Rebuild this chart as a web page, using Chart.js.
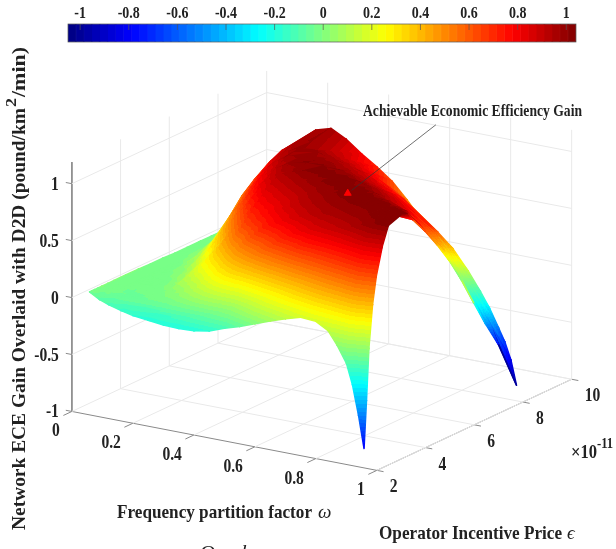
<!DOCTYPE html>
<html>
<head>
<meta charset="utf-8">
<script src="https://cdn.jsdelivr.net/npm/chart.js@4"></script>
<style>
html, body { margin: 0; padding: 0; background: #fff; }
#wrap { position: relative; width: 616px; height: 549px; overflow: hidden; }
canvas { position: absolute; left: 0; top: 0; }
</style>
</head>
<body>
<div id="wrap">
<canvas id="surfaceChart" width="616" height="549"></canvas>
<canvas id="barChart" width="616" height="50"></canvas>
</div>
<script>
// values
const omegaValues = [0.058, 0.09, 0.12, 0.16, 0.2, 0.25, 0.3, 0.35, 0.4, 0.45, 0.5, 0.55, 0.6, 0.65, 0.7, 0.75, 0.8, 0.84, 0.87, 0.9, 0.92, 0.94, 0.958];
const priceValues = [2, 2.1, 2.2, 2.35, 2.5, 2.75, 3, 3.5, 4, 4.5, 5, 5.5, 6, 6.5, 7, 7.5, 8.26];
const gainRows = [
    [0.08, 0.03, 0, -0.03, -0.055, -0.07, -0.085, -0.09, -0.085, -0.06, -0.01, 0.03, 0.08, 0.13, 0.175, 0.215, 0.205, 0.145, 0.03, -0.11, -0.29, -0.55, -0.83],
    [0.08, 0.03, 0, -0.03, -0.05, -0.065, -0.075, -0.07, -0.055, -0.025, 0.03, 0.08, 0.13, 0.19, 0.235, 0.275, 0.29, 0.26, 0.18, 0.1, -0.05, -0.22, -0.42],
    [0.08, 0.03, 0, -0.03, -0.05, -0.06, -0.065, -0.05, -0.025, 0.01, 0.07, 0.13, 0.19, 0.25, 0.31, 0.36, 0.4, 0.38, 0.35, 0.3, 0.2, 0.1, 0.03],
    [0.08, 0.03, 0.005, -0.025, -0.045, -0.05, -0.05, -0.02, 0.02, 0.07, 0.14, 0.2, 0.27, 0.35, 0.42, 0.49, 0.54, 0.55, 0.54, 0.52, 0.49, 0.45, 0.4],
    [0.08, 0.03, 0.005, -0.02, -0.035, -0.04, -0.03, 0.01, 0.07, 0.13, 0.2, 0.28, 0.36, 0.46, 0.55, 0.61, 0.66, 0.68, 0.69, 0.7, 0.68, 0.65, 0.63],
    [0.08, 0.035, 0.01, -0.015, -0.025, -0.02, 0.01, 0.07, 0.15, 0.24, 0.34, 0.44, 0.55, 0.65, 0.76, 0.79, 0.82, 0.85, 0.88, 0.9, 0.89, 0.88, 0.87],
    [0.08, 0.035, 0.01, -0.01, -0.015, 0, 0.05, 0.13, 0.24, 0.36, 0.48, 0.6, 0.71, 0.8, 0.86, 0.89, 0.92, 0.95, 0.98, 1, 1.01, 1.02, 1.03],
    [0.08, 0.035, 0.015, 0, 0.01, 0.05, 0.14, 0.27, 0.42, 0.57, 0.7, 0.78, 0.85, 0.9, 0.94, 0.96, 0.98, 1, 1.02, 1.03, 1.05, 1.06, 1.07],
    [0.08, 0.04, 0.02, 0.015, 0.05, 0.17, 0.3, 0.45, 0.62, 0.72, 0.8, 0.87, 0.92, 0.96, 0.99, 1.01, 1.02, 1.03, 1.04, 1.04, 1.04, 1.02, 0.98],
    [0.075, 0.04, 0.03, 0.04, 0.1, 0.24, 0.42, 0.6, 0.75, 0.82, 0.87, 0.92, 0.97, 1, 1.03, 1.04, 1.03, 1.01, 0.99, 0.97, 0.92, 0.88, 0.83],
    [0.075, 0.045, 0.04, 0.08, 0.2, 0.38, 0.57, 0.74, 0.85, 0.9, 0.95, 0.99, 1.02, 1.03, 1.03, 1, 0.96, 0.91, 0.88, 0.81, 0.77, 0.72, 0.66],
    [0.07, 0.05, 0.06, 0.14, 0.3, 0.52, 0.7, 0.84, 0.93, 0.98, 1.02, 1.03, 1.03, 1.01, 0.97, 0.92, 0.85, 0.8, 0.73, 0.66, 0.6, 0.55, 0.47],
    [0.07, 0.055, 0.08, 0.22, 0.42, 0.64, 0.8, 0.91, 0.99, 1.01, 1.01, 1, 0.97, 0.93, 0.89, 0.84, 0.74, 0.65, 0.58, 0.5, 0.42, 0.33, 0.25],
    [0.07, 0.06, 0.1, 0.3, 0.55, 0.74, 0.88, 0.97, 1, 0.99, 0.97, 0.94, 0.9, 0.85, 0.81, 0.7, 0.59, 0.5, 0.41, 0.29, 0.2, 0.1, 0],
    [0.07, 0.07, 0.13, 0.37, 0.64, 0.82, 0.93, 0.99, 0.98, 0.95, 0.92, 0.88, 0.83, 0.77, 0.68, 0.55, 0.45, 0.33, 0.21, 0.08, -0.02, -0.13, -0.24],
    [0.07, 0.08, 0.16, 0.43, 0.7, 0.87, 0.97, 1, 0.94, 0.9, 0.86, 0.8, 0.72, 0.65, 0.51, 0.42, 0.29, 0.14, 0.01, -0.13, -0.24, -0.35, -0.46],
    [0.07, 0.1, 0.2, 0.48, 0.76, 0.88, 1, 1.04, 0.97, 0.87, 0.78, 0.68, 0.54, 0.38, 0.31, 0.19, 0.02, -0.14, -0.27, -0.43, -0.54, -0.69, -0.9]
];
const peakPoint = [0.665, 5, 0.96];

// the painted colour sits a little under the height near the front, left and back edges
const priceColorShift = [-0.12, -0.11, -0.1, -0.09, -0.07, -0.04, -0.02, 0, 0, 0, 0, 0, 0, 0, 0, -0.02, -0.07];
const omegaColorWeight = [1, 1, 1, 1, 1, 1, 1, 1, 1, 1, 1, 0.85, 0.7, 0.6, 0.5, 0.4, 0.3, 0.2, 0.1, 0, 0, 0, 0];
const leftColorShift = [-0.08, -0.07, -0.05, -0.03, -0.01, 0, 0, 0, 0, 0, 0, 0, 0, 0, 0, 0, 0, 0, 0, 0, 0, 0, 0];
// the thin ribbon on the right is seen edge on, its colour follows the screen height
const ribbonHeights = [215, 235, 257, 280, 307, 347, 387];
const ribbonColors = [0.8, 0.55, 0.25, 0, -0.27, -0.79, -1];
const ribbonStartX = 410;
const backEdgeStartX = 425;

const omegaTicks = [0, 0.2, 0.4, 0.6, 0.8, 1];
const priceTicks = [2, 4, 6, 8, 10];
const gainTicks = [-1, -0.5, 0, 0.5, 1];
const colorbarTicks = [-1, -0.8, -0.6, -0.4, -0.2, 0, 0.2, 0.4, 0.6, 0.8, 1];

const colorMin = -1.05;
const colorMax = 1.04;
const colorLevels = 64;
const zTop = 1.19;

const textColor = '#222222';
const serif = '"Liberation Serif", "Times New Roman", serif';

// 3D view of the box, gives the x/y values for the screen scales
function project(omega, price, gain) {
    return {
        x: 68 + 310 * omega + 24.75 * (price - 2),
        y: 414 + 60 * omega - 11.6 * (price - 2) - 116 * (gain + 1)
    };
}

function jet(t) {
    function part(v) { return Math.round(255 * Math.max(0, Math.min(1, v))); }
    const r = part(Math.min(4 * t - 1.5, -4 * t + 4.5));
    const g = part(Math.min(4 * t - 0.5, -4 * t + 3.5));
    const b = part(Math.min(4 * t + 0.5, -4 * t + 2.5));
    return 'rgb(' + r + ',' + g + ',' + b + ')';
}

function levelOf(z) {
    const t = (z - colorMin) / (colorMax - colorMin);
    return Math.max(0, Math.min(colorLevels - 1, Math.floor(t * colorLevels)));
}

function levelColor(i) {
    return jet((i + 0.5) / colorLevels);
}

function ribbonColor(y) {
    if (y <= ribbonHeights[0]) return ribbonColors[0];
    for (let k = 1; k < ribbonHeights.length; k++) {
        if (y <= ribbonHeights[k]) {
            const f = (y - ribbonHeights[k - 1]) / (ribbonHeights[k] - ribbonHeights[k - 1]);
            return ribbonColors[k - 1] + f * (ribbonColors[k] - ribbonColors[k - 1]);
        }
    }
    return ribbonColors[ribbonColors.length - 1];
}

// value that picks the colour of one grid point
function colorValue(i, j) {
    const p = project(omegaValues[i], priceValues[j], gainRows[j][i]);
    const startX = j === priceValues.length - 1 ? backEdgeStartX : ribbonStartX;
    if (p.x > startX) return ribbonColor(p.y);
    return gainRows[j][i] + Math.min(priceColorShift[j] * omegaColorWeight[i], leftColorShift[i]);
}

// banded gradient that follows the colour value across one triangle
function triangleFill(ctx, p, z) {
    const ax = p[1].x - p[0].x, ay = p[1].y - p[0].y;
    const bx = p[2].x - p[0].x, by = p[2].y - p[0].y;
    const dz1 = z[1] - z[0], dz2 = z[2] - z[0];
    const det = ax * by - bx * ay;
    const low = Math.min(z[0], z[1], z[2]);
    const high = Math.max(z[0], z[1], z[2]);
    if (Math.abs(det) < 0.01 || levelOf(low) === levelOf(high)) {
        return levelColor(levelOf((low + high) / 2));
    }
    const gx = (dz1 * by - dz2 * ay) / det;
    const gy = (dz2 * ax - dz1 * bx) / det;
    const g2 = gx * gx + gy * gy;
    const start = p[z.indexOf(low)];
    const k = (high - low) / g2;
    const gradient = ctx.createLinearGradient(start.x, start.y, start.x + gx * k, start.y + gy * k);
    const bandSize = (colorMax - colorMin) / colorLevels;
    for (let i = levelOf(low); i <= levelOf(high); i++) {
        const from = Math.max(0, (colorMin + i * bandSize - low) / (high - low));
        const to = Math.min(1, (colorMin + (i + 1) * bandSize - low) / (high - low));
        gradient.addColorStop(from, levelColor(i));
        gradient.addColorStop(to, levelColor(i));
    }
    return gradient;
}

function polyline(points, color, width) {
    return {
        type: 'line',
        data: points,
        borderColor: color,
        borderWidth: width,
        pointRadius: 0,
        fill: false,
        tension: 0
    };
}

function surfaceDatasets(ctx) {
    const sets = [];
    function addTriangle(a, b, c) {
        const p = [a, b, c].map(function(d) {
            return project(omegaValues[d[0]], priceValues[d[1]], gainRows[d[1]][d[0]]);
        });
        const z = [a, b, c].map(function(d) { return colorValue(d[0], d[1]); });
        const color = triangleFill(ctx, p, z);
        sets.push({
            type: 'line',
            data: [p[0], p[1], p[2], p[0]],
            borderColor: color,
            backgroundColor: color,
            // wide enough that the seams between triangles stay closed
            borderWidth: 1.5,
            borderJoinStyle: 'round',
            borderCapStyle: 'round',
            pointRadius: 0,
            fill: 'shape',
            tension: 0
        });
    }
    // painter's order: far corner of the box first
    for (let j = priceValues.length - 2; j >= 0; j--) {
        for (let i = 0; i < omegaValues.length - 1; i++) {
            addTriangle([i, j + 1], [i + 1, j + 1], [i, j]);
            addTriangle([i + 1, j + 1], [i + 1, j], [i, j]);
        }
    }
    return sets;
}

function boxDatasets() {
    const sets = [];
    const gridColor = '#e9e9e9';
    const axisColor = '#8a8a8a';
    omegaTicks.slice(1).forEach(function(w) {
        sets.push(polyline([project(w, 2, -1), project(w, 10, -1), project(w, 10, zTop)], gridColor, 1));
    });
    priceTicks.slice(1).forEach(function(e) {
        sets.push(polyline([project(1, e, -1), project(0, e, -1), project(0, e, zTop)], gridColor, 1));
    });
    gainTicks.forEach(function(g) {
        sets.push(polyline([project(0, 2, g), project(0, 10, g), project(1, 10, g)], gridColor, 1));
    });
    sets.push(polyline([project(0, 2, zTop), project(0, 2, -1), project(1, 2, -1), project(1, 10, -1)], axisColor, 1));
    // short tick marks on the three axes
    gainTicks.forEach(function(g) {
        sets.push(polyline([project(0, 2, g), project(-0.02, 2, g)], axisColor, 1));
    });
    omegaTicks.forEach(function(w) {
        sets.push(polyline([project(w, 2, -1), project(w, 1.65, -1)], axisColor, 1));
    });
    priceTicks.forEach(function(e) {
        sets.push(polyline([project(1, e, -1), project(1.022, e, -1)], axisColor, 1));
    });
    return sets;
}

// text squeezed to the narrow look of the original figure
function drawText(ctx, text, x, y, opt) {
    ctx.save();
    ctx.font = (opt.style || 'bold') + ' ' + opt.size + 'px ' + serif;
    ctx.fillStyle = textColor;
    ctx.textBaseline = 'alphabetic';
    ctx.textAlign = 'left';
    const measured = ctx.measureText(text).width;
    const sx = opt.width ? opt.width / measured : (opt.squeeze || 0.82);
    const w = measured * sx;
    ctx.translate(x, y);
    if (opt.rotate) ctx.rotate(opt.rotate);
    ctx.scale(sx, 1);
    let dx = 0;
    if (opt.align === 'right') dx = -w / sx;
    if (opt.align === 'center') dx = -w / sx / 2;
    ctx.fillText(text, dx, 0);
    ctx.restore();
}

const labelPlugin = {
    id: 'labelPlugin',
    afterDatasetsDraw: function(chart) {
        const ctx = chart.ctx;
        const sx = chart.scales.x, sy = chart.scales.y;
        function at(p) { return { x: sx.getPixelForValue(p.x), y: sy.getPixelForValue(p.y) }; }
        gainTicks.forEach(function(g) {
            const p = at(project(0, 2, g));
            drawText(ctx, String(g), p.x - 13, p.y + 6, { size: 19, align: 'right' });
        });
        omegaTicks.forEach(function(w) {
            const p = at(project(w, 2, -1));
            drawText(ctx, String(w), p.x - 12, p.y + 25, { size: 19, align: 'right' });
        });
        priceTicks.forEach(function(e) {
            const p = at(project(1, e, -1));
            drawText(ctx, String(e), p.x + 13, p.y + 22, { size: 19 });
        });
        drawText(ctx, '\u00d710', 571, 458, { size: 19, width: 26 });
        drawText(ctx, '-11', 597, 448, { size: 14, width: 16 });

        drawText(ctx, 'Frequency partition factor', 117, 518, { size: 19, width: 195 });
        drawText(ctx, '\u03c9', 318, 518, { size: 19, style: 'italic', squeeze: 1 });
        drawText(ctx, 'Operator Incentive Price', 379, 539, { size: 19, width: 183 });
        drawText(ctx, '\u03f5', 567, 539, { size: 19, style: 'italic', squeeze: 1 });

        drawText(ctx, 'Network ECE Gain Overlaid with D2D (pound/km', 25, 530, { size: 19, width: 422, rotate: -Math.PI / 2 });
        drawText(ctx, '2', 16, 107, { size: 15, width: 9, rotate: -Math.PI / 2 });
        drawText(ctx, '/min)', 25, 97, { size: 19, width: 50, rotate: -Math.PI / 2 });

        drawText(ctx, 'Achievable Economic Efficiency Gain', 363, 116, { size: 16, width: 219 });
        drawText(ctx, 'Overlay', 200, 557, { size: 17, style: 'italic', width: 66 });
    }
};

const surfaceCtx = document.getElementById('surfaceChart').getContext('2d');
const marker = project(peakPoint[0], peakPoint[1], peakPoint[2]);

const frontSets = [
    {
        type: 'scatter',
        data: [marker],
        pointStyle: 'triangle',
        pointRadius: 4,
        pointBackgroundColor: '#ff0000',
        pointBorderColor: '#ff0000',
        showLine: false
    },
    polyline([{ x: marker.x + 4, y: marker.y - 3 }, { x: 438, y: 122 }], '#333333', 0.7)
];

// chart.js paints the first dataset last, so the list runs front to back
const allSets = frontSets.concat(surfaceDatasets(surfaceCtx).reverse(), boxDatasets());

new Chart('surfaceChart', {
    type: 'scatter',
    data: { datasets: allSets },
    plugins: [labelPlugin],
    options: {
        responsive: false,
        animation: false,
        events: [],
        layout: { padding: 0 },
        plugins: { legend: { display: false }, tooltip: { enabled: false } },
        scales: {
            x: { type: 'linear', min: 0, max: 616, display: false },
            y: { type: 'linear', min: 0, max: 549, reverse: true, display: false }
        }
    }
});

// colour bar on top, floating bars on its own linear scale
const barCells = [];
for (let i = 0; i < colorLevels; i++) {
    const size = (colorMax - colorMin) / colorLevels;
    barCells.push({
        data: [[colorMin + i * size, colorMin + (i + 1) * size]],
        backgroundColor: levelColor(i),
        borderColor: levelColor(i),
        borderWidth: 0.5,
        borderSkipped: false,
        barPercentage: 1,
        categoryPercentage: 1,
        grouped: false
    });
}

const barPlugin = {
    id: 'barPlugin',
    afterDatasetsDraw: function(chart) {
        const ctx = chart.ctx;
        const area = chart.chartArea;
        const sx = chart.scales.x;
        ctx.save();
        ctx.strokeStyle = '#555555';
        ctx.lineWidth = 0.7;
        ctx.strokeRect(area.left, area.top, area.right - area.left, area.bottom - area.top);
        colorbarTicks.forEach(function(v) {
            const px = sx.getPixelForValue(v);
            ctx.beginPath();
            ctx.moveTo(px, area.top);
            ctx.lineTo(px, area.top + 6);
            ctx.stroke();
        });
        ctx.restore();
        colorbarTicks.forEach(function(v) {
            drawText(ctx, String(v), sx.getPixelForValue(v), 18, { size: 17, align: 'center' });
        });
    }
};

new Chart('barChart', {
    type: 'bar',
    data: { labels: ['level'], datasets: barCells },
    plugins: [barPlugin],
    options: {
        indexAxis: 'y',
        responsive: false,
        animation: false,
        events: [],
        layout: { padding: { left: 68, right: 40, top: 24, bottom: 8 } },
        plugins: { legend: { display: false }, tooltip: { enabled: false } },
        scales: {
            x: { type: 'linear', min: colorMin, max: colorMax, display: false },
            y: { display: false, stacked: true }
        }
    }
});
</script>
</body>
</html>
